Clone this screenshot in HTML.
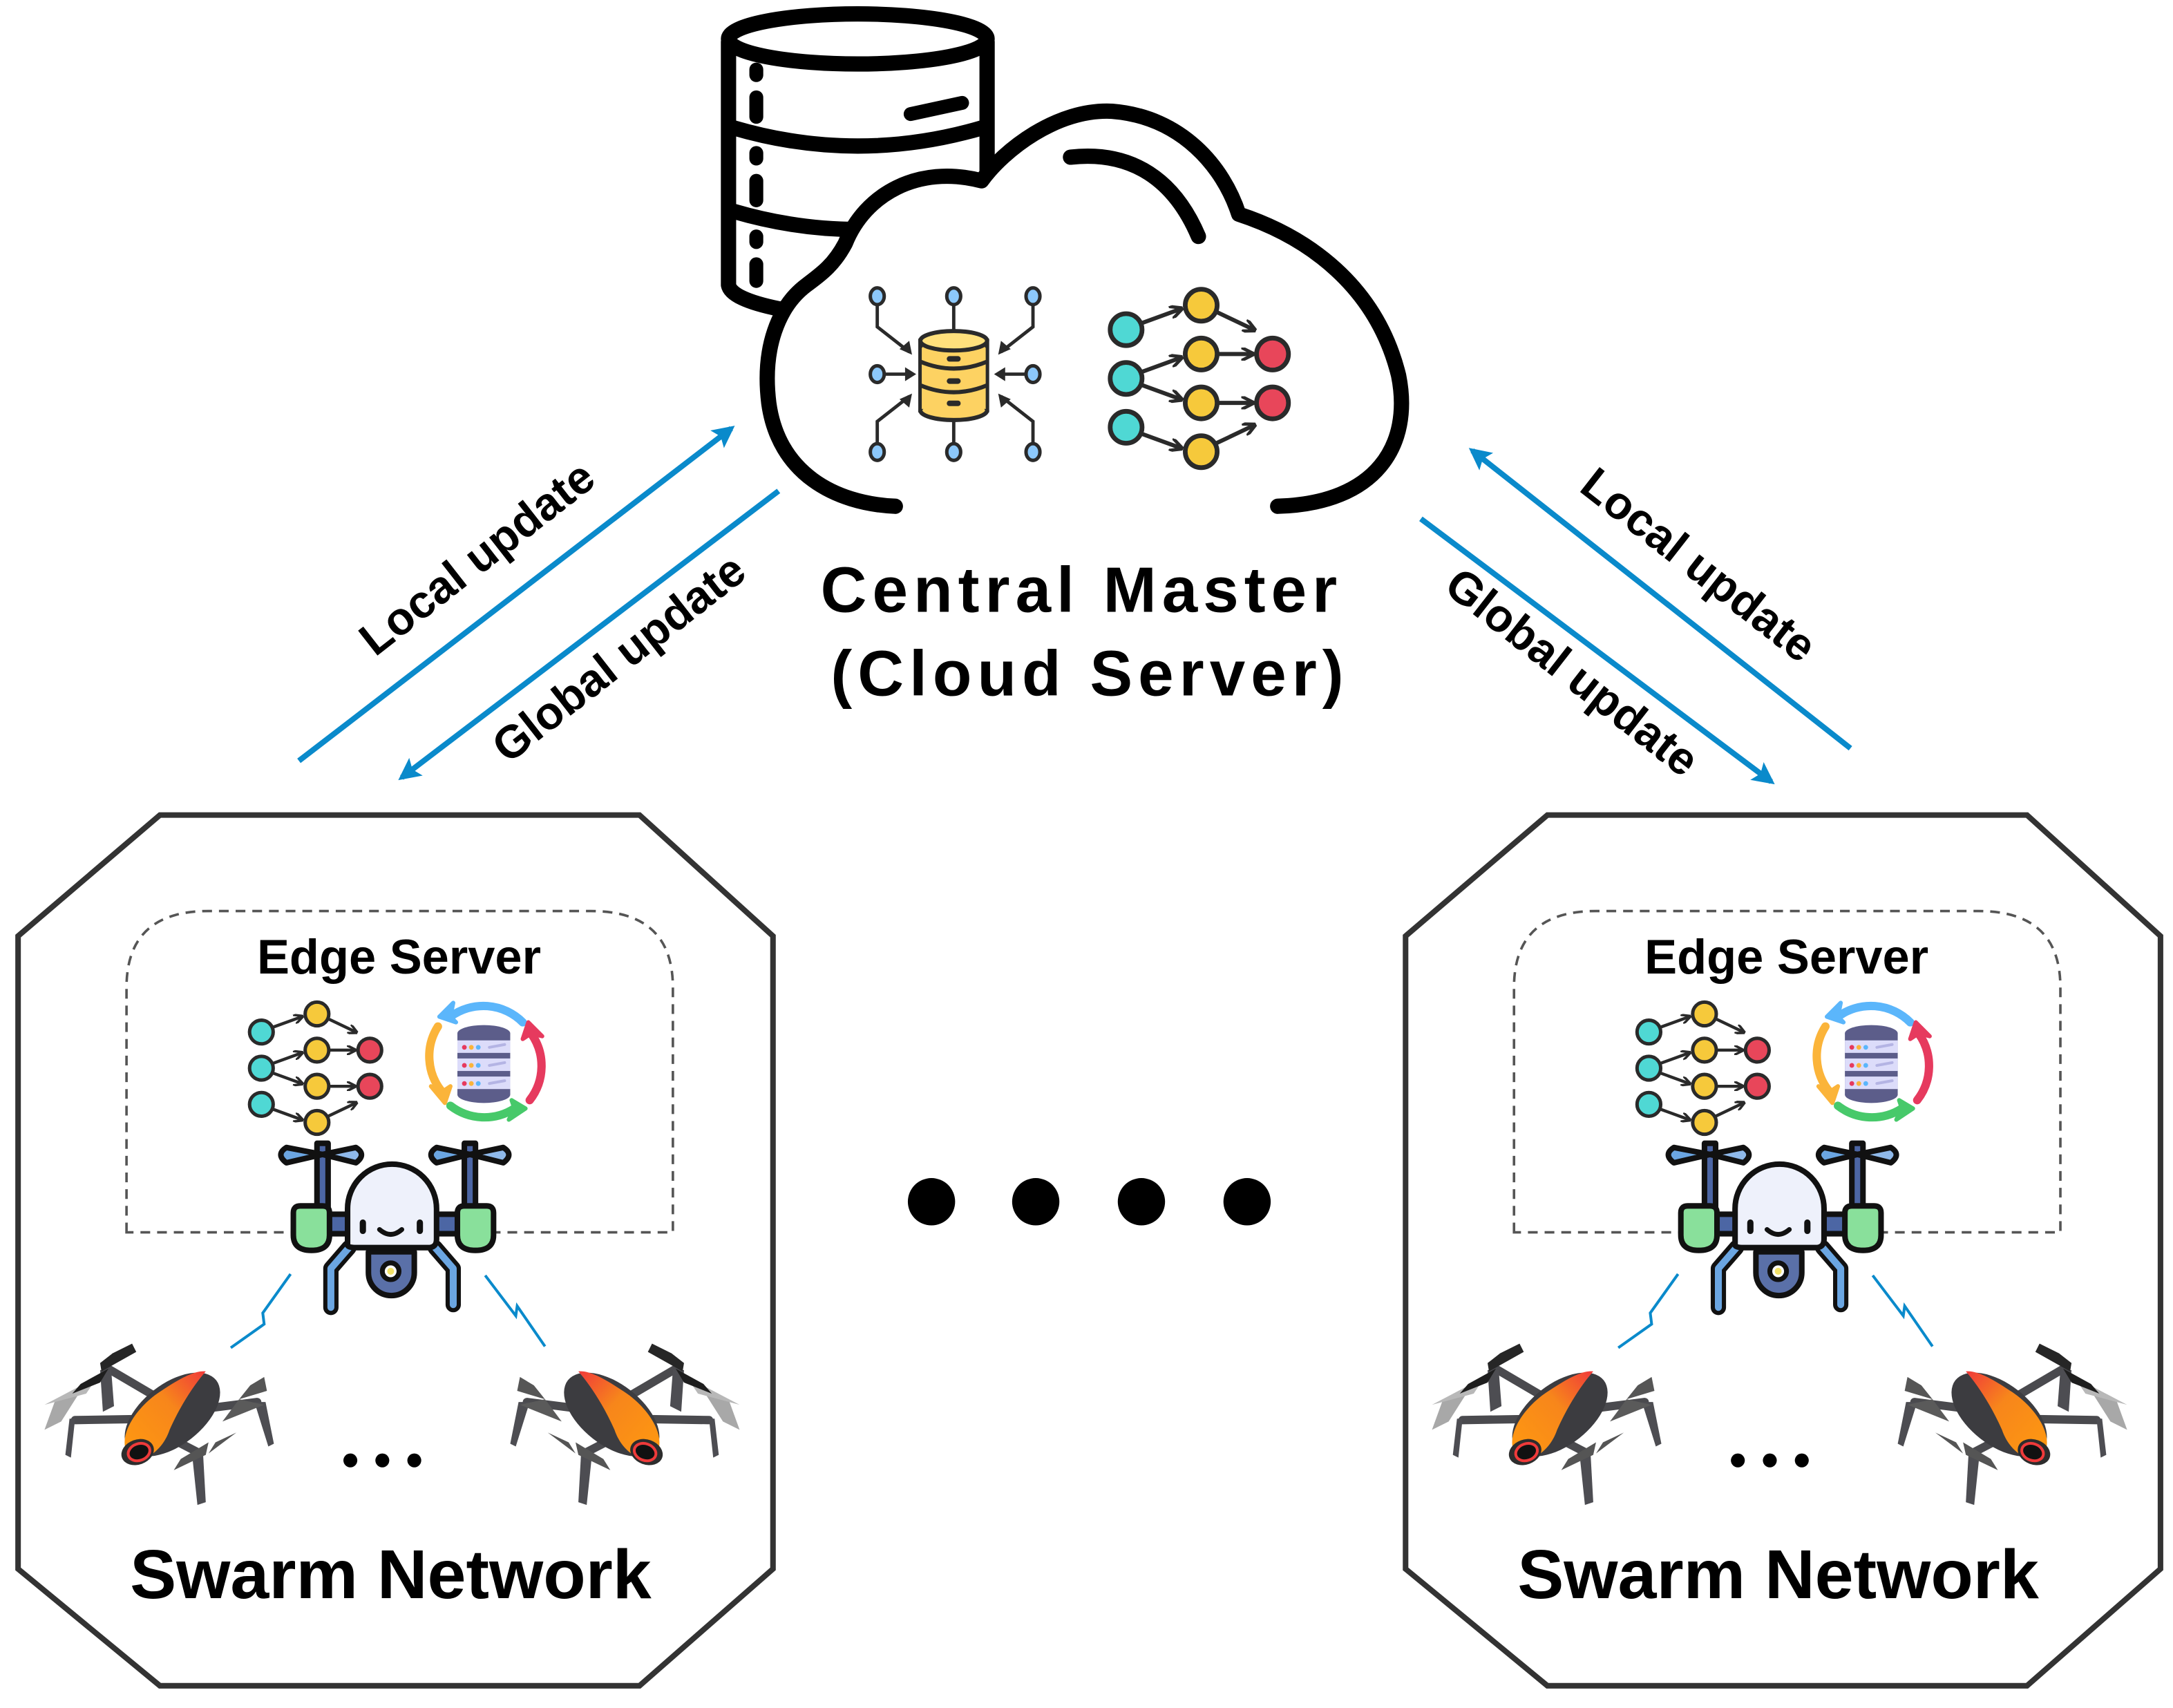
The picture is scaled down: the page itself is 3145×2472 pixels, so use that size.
<!DOCTYPE html>
<html><head><meta charset="utf-8">
<style>
html,body{margin:0;padding:0;background:#fff;}
svg{display:block;}
text{font-family:"Liberation Sans",sans-serif;}
</style></head>
<body>
<svg width="3145" height="2472" viewBox="0 0 1563 1228" preserveAspectRatio="none" xmlns="http://www.w3.org/2000/svg">
<defs>
  <marker id="ah2" viewBox="0 0 10 10" refX="8" refY="5" markerWidth="20" markerHeight="16" orient="auto" markerUnits="userSpaceOnUse">
    <path d="M0,0 L10,5 L0,10 L2,5 z" fill="#0a8acb"/>
  </marker>
  <marker id="sa" viewBox="0 0 10 10" refX="8" refY="5" markerWidth="7" markerHeight="7" orient="auto" markerUnits="userSpaceOnUse">
    <path d="M0,0 L10,5 L0,10" fill="none" stroke="#2a2a2a" stroke-width="2.5"/>
  </marker>
  <linearGradient id="og" x1="0" y1="1" x2="1" y2="0">
    <stop offset="0" stop-color="#ff9a10"/><stop offset="0.6" stop-color="#f7861b"/><stop offset="1" stop-color="#f03a3a"/>
  </linearGradient>
  <g id="net">
    <g stroke="#2a2a2a" stroke-width="2.2" fill="none" marker-end="url(#sa)">
      <path d="M7,-3 L29,-11"/><path d="M7,23 L29,15"/><path d="M7,29 L29,37"/><path d="M7,55 L29,63"/>
      <path d="M47,-10 L68,0"/><path d="M48,13 L67,13"/><path d="M48,39 L67,39"/><path d="M47,61 L68,51"/>
    </g>
    <g stroke="#2a2a2a" stroke-width="2.5">
      <circle cx="0" cy="0" r="8.5" fill="#4fd8d4"/>
      <circle cx="0" cy="26" r="8.5" fill="#4fd8d4"/>
      <circle cx="0" cy="52" r="8.5" fill="#4fd8d4"/>
      <circle cx="40" cy="-13" r="8.5" fill="#f6c93b"/>
      <circle cx="40" cy="13" r="8.5" fill="#f6c93b"/>
      <circle cx="40" cy="39" r="8.5" fill="#f6c93b"/>
      <circle cx="40" cy="65" r="8.5" fill="#f6c93b"/>
      <circle cx="78" cy="13" r="8.5" fill="#e8465a"/>
      <circle cx="78" cy="39" r="8.5" fill="#e8465a"/>
    </g>
  </g>
  <g id="cyc">
    <path d="M-24,-32 A40,40 0 0 1 28,-28" stroke="#5bb6fb" stroke-width="6" fill="none" stroke-linecap="round"/>
    <path d="M-24,-32 l2,-10 l-10,10 l12,4 z" fill="#5bb6fb" stroke="#5bb6fb" stroke-width="3" stroke-linejoin="round"/>
    <path d="M-33,-25 A40,40 0 0 0 -30,22" stroke="#fbb43a" stroke-width="6" fill="none" stroke-linecap="round"/>
    <path d="M-30,22 l-8,-4 l10,12 l4,-12 z" fill="#fbb43a" stroke="#fbb43a" stroke-width="3" stroke-linejoin="round"/>
    <path d="M-24,32 A40,40 0 0 0 22,34" stroke="#47c96a" stroke-width="6" fill="none" stroke-linecap="round"/>
    <path d="M22,34 l-4,8 l12,-8 l-10,-6 z" fill="#47c96a" stroke="#47c96a" stroke-width="3" stroke-linejoin="round"/>
    <path d="M33,28 A40,40 0 0 0 34,-20" stroke="#e63a5e" stroke-width="6" fill="none" stroke-linecap="round"/>
    <path d="M34,-20 l8,2 l-10,-10 l-4,12 z" fill="#e63a5e" stroke="#e63a5e" stroke-width="3" stroke-linejoin="round"/>
    <rect x="-19" y="-20" width="38" height="44" fill="#5c5d8a"/>
    <ellipse cx="0" cy="-20" rx="19" ry="6" fill="#5c5d8a"/>
    <ellipse cx="0" cy="24" rx="19" ry="6" fill="#5c5d8a"/>
    <rect x="-19" y="-15" width="38" height="9" fill="#dcdcfa"/>
    <rect x="-19" y="-2" width="38" height="9" fill="#dcdcfa"/>
    <rect x="-19" y="11" width="38" height="9" fill="#dcdcfa"/>
    <g fill="#e63a5e"><circle cx="-14" cy="-10" r="1.7"/><circle cx="-14" cy="3" r="1.7"/><circle cx="-14" cy="16" r="1.7"/></g>
    <g fill="#fbb43a"><circle cx="-9" cy="-10" r="1.7"/><circle cx="-9" cy="3" r="1.7"/><circle cx="-9" cy="16" r="1.7"/></g>
    <g fill="#5bb6fb"><circle cx="-4" cy="-10" r="1.7"/><circle cx="-4" cy="3" r="1.7"/><circle cx="-4" cy="16" r="1.7"/></g>
    <g stroke="#b4b4e4" stroke-width="2" stroke-linecap="round"><path d="M4,-10 L15,-12 M4,3 L15,1 M4,16 L15,14"/></g>
  </g>
  <g id="edrone" stroke="#111" stroke-width="4" stroke-linejoin="round" stroke-linecap="round">
    <rect x="228" y="822" width="8" height="52" fill="#4c66a4"/>
    <rect x="334" y="822" width="8" height="52" fill="#4c66a4"/>
    <path d="M232,830 L206,825 Q198,830 206,836 Z" fill="#6ba6e2"/>
    <path d="M232,830 L256,825 Q264,830 256,836 Z" fill="#8fb9ea"/>
    <path d="M338,830 L314,825 Q306,830 314,836 Z" fill="#6ba6e2"/>
    <path d="M338,830 L362,825 Q370,830 362,836 Z" fill="#8fb9ea"/>
    <rect x="233" y="873" width="104" height="14" fill="#4c66a4"/>
    <path d="M251,897 L238,912 L238,940 M313,897 L326,912 L326,938" fill="none" stroke="#111" stroke-width="11"/>
    <path d="M251,897 L238,912 L238,940 M313,897 L326,912 L326,938" fill="none" stroke="#6ba6e2" stroke-width="5"/>
    <path d="M265,900 L298,900 L298,915 A16.5,16.5 0 0 1 265,915 Z" fill="#5a70a8"/>
    <circle cx="281" cy="914" r="6" fill="#fff" stroke-width="3.5"/>
    <circle cx="281" cy="914" r="2.5" fill="#f4e36a" stroke="none"/>
    <path d="M211,872 Q211,867 216,867 L232,867 Q237,867 237,872 L237,888 Q237,899 224,899 Q211,899 211,888 Z" fill="#89e09b"/>
    <path d="M329,872 Q329,867 334,867 L350,867 Q355,867 355,872 L355,888 Q355,899 342,899 Q329,899 329,888 Z" fill="#89e09b"/>
    <path d="M250,895 L250,869 A32,32 0 0 1 314,869 L314,891 Q314,897 308,897 L256,897 Q250,897 250,895 Z" fill="#eef1fb"/>
    <path d="M261,879 L261,885 M302,879 L302,885" stroke-width="4.5"/>
    <path d="M273,884 Q281,891 289,884" fill="none" stroke-width="3.5"/>
  </g>
  <g id="odrone">
    <g stroke="#4a4a4e" stroke-width="6" stroke-linecap="round" fill="none">
      <path d="M54,1021 L115,1020 M76,983 L122,1010 M185,1008 L130,1015 M142,1044 L115,1030"/>
    </g>
    <g fill="#4d4d52">
      <path d="M50,1020 l4,0 l-3,28 l-4,-2 z"/>
      <path d="M72,985 l8,0 l2,26 l-8,4 z"/>
      <path d="M183,1008 l8,0 l6,30 l-4,2 z"/>
      <path d="M138,1044 l8,0 l2,36 l-6,2 z"/>
    </g>
    <path d="M40,1006 L58,1000 L44,1022 L32,1028 Z" fill="#a8a8a8"/>
    <path d="M62,1002 L70,990 L32,1010 Z" fill="#b8b8b8"/>
    <path d="M95,966 L81,973 L72,980 L73,986 L98,972 Z" fill="#262626"/>
    <path d="M78,984 L58,995 L52,1002 L72,994 Z" fill="#1e1e1e"/>
    <path d="M190,990 L180,996 L172,1006 L192,1000 Z" fill="#565656"/>
    <path d="M172,1006 L160,1022 L190,1010 Z" fill="#5a5a5a"/>
    <path d="M150,1037 L130,1049 L125,1057 L148,1046 Z" fill="#555"/>
    <path d="M155,1037 L170,1030 L150,1045 Z" fill="#555"/>
    <ellipse cx="124" cy="1017" rx="40" ry="22" transform="rotate(-38 124 1017)" fill="#3c3c40"/>
    <path d="M91,1044 C85,1030 100,1010 116,1000 C128,992 140,985 148,986 C140,995 130,1010 122,1028 C118,1040 108,1050 95,1050 Z" fill="url(#og)"/>
    <ellipse cx="99" cy="1044" rx="12" ry="9" transform="rotate(-20 99 1044)" fill="#2d2d2d"/>
    <ellipse cx="100" cy="1044" rx="8" ry="6" transform="rotate(-20 100 1044)" fill="#111" stroke="#ef3a3a" stroke-width="2"/>
  </g>
</defs>

<g stroke="#000" stroke-width="11" fill="#fff" stroke-linecap="round" stroke-linejoin="round">
  <path d="M524,30 L524,205 Q526,215 560,222 L600,225 L710,220 L710,30" />
  <ellipse cx="617" cy="28" rx="93" ry="18"/>
  <path d="M528,92 Q617,118 706,92 M528,152 Q617,178 706,152" fill="none"/>
  <path d="M544,50 L544,54 M544,70 L544,84 M544,110 L544,114 M544,130 L544,144 M544,170 L544,174 M544,190 L544,202 M655,82 L692,74" fill="none" stroke-width="10"/>
  <path d="M644,364 C600,362 560,340 553,290 C548,250 560,220 580,205 C592,196 600,190 608,175 C622,140 660,118 706,130 C722,108 760,78 800,80 C850,84 880,120 891,154 C940,170 990,205 1006,270 C1016,320 990,362 919,364" fill="#fff"/>
  <path d="M770,113 C815,108 845,130 862,170" fill="none"/>
</g>

<g stroke="#2a2a2a" stroke-width="2.4" fill="none">
  <path d="M631,219 L631,235 L654,253 M686,219 L686,240 M743,219 L743,235 L720,253 M631,269 L654,269 M743,269 L720,269 M631,320 L631,303 L654,285 M686,320 L686,300 M743,320 L743,303 L720,285"/>
</g>
<g fill="#2a2a2a">
  <path d="M656,255 l-2,-10 l-7,6 z"/><path d="M686,246 l-5,-7 l10,0 z"/><path d="M718,255 l2,-10 l7,6 z"/>
  <path d="M659,269 l-8,-5 l0,10 z"/><path d="M715,269 l8,-5 l0,10 z"/>
  <path d="M656,283 l-2,10 l-7,-6 z"/><path d="M686,293 l-5,7 l10,0 z"/><path d="M718,283 l2,10 l7,-6 z"/>
</g>
<g stroke="#2a2a2a" stroke-width="2.5" fill="#8cc8fb">
  <ellipse cx="631" cy="213" rx="5" ry="6"/><ellipse cx="686" cy="213" rx="5" ry="6"/><ellipse cx="743" cy="213" rx="5" ry="6"/>
  <ellipse cx="631" cy="269" rx="5" ry="6"/><ellipse cx="743" cy="269" rx="5" ry="6"/>
  <ellipse cx="631" cy="325" rx="5" ry="6"/><ellipse cx="686" cy="325" rx="5" ry="6"/><ellipse cx="743" cy="325" rx="5" ry="6"/>
</g>
<g stroke="#2a2a2a" stroke-width="3">
  <rect x="662" y="245" width="48" height="50" fill="#fdd262"/>
  <ellipse cx="686" cy="295" rx="24" ry="7" fill="#fdd262"/>
  <rect x="663" y="250" width="46" height="44" fill="#fdd262" stroke="none"/>
  <path d="M662,260 Q686,270 710,260 M662,277 Q686,287 710,277" fill="none"/>
  <ellipse cx="686" cy="245" rx="24" ry="7" fill="#ffe07c"/>
</g>
<g fill="#2a2a2a"><rect x="681" y="256" width="10" height="4" rx="2"/><rect x="681" y="272" width="10" height="4" rx="2"/><rect x="681" y="288" width="10" height="4" rx="2"/></g>
<g transform="translate(810,237) scale(1.35)"><use href="#net"/></g>

<text x="778" y="440" font-size="46" font-weight="bold" text-anchor="middle" letter-spacing="4" fill="#000">Central Master</text>
<text x="784" y="500" font-size="46" font-weight="bold" text-anchor="middle" letter-spacing="4" fill="#000">(Cloud Server)</text>

<g stroke="#0a8acb" stroke-width="4" fill="none">
  <line x1="215" y1="547" x2="526" y2="308" marker-end="url(#ah2)"/>
  <line x1="560" y1="353" x2="289" y2="559" marker-end="url(#ah2)"/>
  <line x1="1331" y1="538" x2="1059" y2="324" marker-end="url(#ah2)"/>
  <line x1="1022" y1="373" x2="1274" y2="562" marker-end="url(#ah2)"/>
</g>
<g font-size="33" font-weight="bold" fill="#000">
  <text transform="translate(350,410) rotate(-38)" text-anchor="middle">Local update</text>
  <text transform="translate(452,482) rotate(-38)" text-anchor="middle">Global update</text>
  <text transform="translate(1215,415) rotate(38)" text-anchor="middle">Local update</text>
  <text transform="translate(1124,492) rotate(38)" text-anchor="middle">Global update</text>
</g>

<g fill="#000"><circle cx="670" cy="864" r="17"/><circle cx="745" cy="864" r="17"/><circle cx="821" cy="864" r="17"/><circle cx="897" cy="864" r="17"/></g>

<g id="panelL">
  <path d="M115,586 L460,586 L556,673 L556,1128 L460,1212 L115,1212 L13,1128 L13,673 Z" fill="#fff" stroke="#333" stroke-width="4"/>
  <path d="M91,886 L91,710 Q91,655 150,655 L425,655 Q484,655 484,710 L484,886 Z" fill="none" stroke="#555" stroke-width="1.8" stroke-dasharray="7,5"/>
  <g transform="translate(188,742)"><use href="#net"/></g>
  <g transform="translate(348,763)"><use href="#cyc"/></g>
  <use href="#edrone"/>
  <g stroke="#0a8acb" stroke-width="2" fill="none">
    <path d="M209,916 L189,944 L190,952 L166,969"/>
    <path d="M349,917 L371,946 L372,939 L392,968"/>
  </g>
  <use href="#odrone"/>
  <use href="#odrone" transform="translate(564,0) scale(-1,1)"/>
  <g fill="#000"><circle cx="252" cy="1050" r="5"/><circle cx="275" cy="1050" r="5"/><circle cx="298" cy="1050" r="5"/></g>
</g>
<text x="287" y="700" font-size="35" font-weight="bold" text-anchor="middle" fill="#000">Edge Server</text>
<text x="281" y="1149" font-size="50" font-weight="bold" text-anchor="middle" fill="#000">Swarm Network</text>

<g transform="translate(998,0)">
  <use href="#panelL"/>
</g>
<text x="1285" y="700" font-size="35" font-weight="bold" text-anchor="middle" fill="#000">Edge Server</text>
<text x="1279" y="1149" font-size="50" font-weight="bold" text-anchor="middle" fill="#000">Swarm Network</text>
</svg>
</body></html>
